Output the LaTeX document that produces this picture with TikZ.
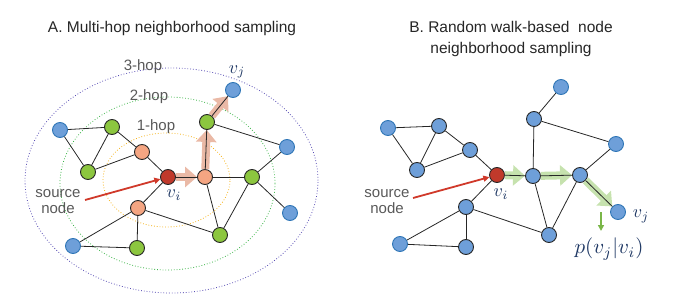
\documentclass[tikz,border=0pt]{standalone}
\usepackage{fontspec}
\setmainfont{Liberation Sans}
\usetikzlibrary{arrows.meta}
\definecolor{nblue}{HTML}{6E9FD9}
\definecolor{nblueb}{HTML}{2E75B6}
\definecolor{ngreen}{HTML}{8CC63F}
\definecolor{norange}{HTML}{F4A582}
\definecolor{nred}{HTML}{C0392B}
\definecolor{lblue}{HTML}{1F3864}
\definecolor{gtext}{HTML}{595959}
\definecolor{hopthree}{HTML}{5A4FB5}
\definecolor{hoptwo}{HTML}{3DB54A}
\definecolor{hopone}{HTML}{F5B31C}
\definecolor{salm}{HTML}{EAB9A6}
\definecolor{lgreen}{HTML}{C6E2AE}
\definecolor{sgreen}{HTML}{7AB648}
\definecolor{arrred}{HTML}{D0392A}
\newcommand{\vlab}[1]{\scalebox{1.8}{$#1$}}
\begin{document}
\begin{tikzpicture}[x=1pt,y=-1pt,
 nd/.style={circle,minimum size=15pt,inner sep=0pt,line width=0.9pt,draw=black!85},
 bn/.style={nd,fill=nblue},
 bnb/.style={nd,fill=nblue,draw=nblueb},
 gn/.style={nd,fill=ngreen},
 on/.style={nd,fill=norange},
 rn/.style={nd,fill=nred},
 edge/.style={line width=0.8pt,black!85},
 walkA/.style={line width=8pt,salm,-{Triangle[width=20pt,length=12pt]}},
 walkB/.style={line width=8pt,lgreen,-{Triangle[width=20pt,length=12pt]}},
 title/.style={font=\fontsize{15.5}{20}\selectfont,anchor=base,text=black!85},
 glabel/.style={font=\fontsize{15}{17}\selectfont,text=gtext,align=center},
 vlabel/.style={text=lblue,inner sep=0pt},
 redarr/.style={line width=1.8pt,arrred,-{Triangle[width=6pt,length=6pt]}},
 hop/.style={dotted,line width=0.8pt}
]
\useasboundingbox (0,0) rectangle (687,307);

% ---------- Panel A ----------
\node[title] (titleA) at (172,32.7) {A. Multi-hop neighborhood sampling};

\draw[hop,hopthree] (171.5,180.5) ellipse [x radius=146.5pt, y radius=112.5pt];
\draw[hop,hoptwo] (167.5,183.5) ellipse [x radius=107.5pt, y radius=86.5pt];
\draw[hop,hopone] (166.5,180) ellipse [x radius=63.5pt, y radius=47pt];

\node[glabel] (h3) at (143,67) {3-hop};
\node[glabel] (h2) at (149,97) {2-hop};
\node[glabel] (h1) at (156,127) {1-hop};

\node[bnb] (a1) at (60,130) {};
\node[gn] (a2) at (112,127) {};
\node[on] (a3) at (142,152) {};
\node[gn] (a4) at (88,172) {};
\node[rn] (viA) at (168,177) {};
\node[on] (a5) at (205,177) {};
\node[gn] (a6) at (207,122) {};
\node[bnb] (vjA) at (233,90) {};
\node[bnb] (a7) at (287,147) {};
\node[gn] (a8) at (252,177) {};
\node[bnb] (a9) at (290,213) {};
\node[on] (a10) at (138,208) {};
\node[gn] (a11) at (220,235) {};
\node[bnb] (a12) at (73,246) {};
\node[gn] (a13) at (137,248) {};

\draw[walkA] (viA) -- (a5);
\draw[walkA] (a5) -- (a6);
\draw[walkA] (a6) -- (vjA);

\foreach \u/\v in {a1/a2,a1/a4,a2/a4,a2/a3,a4/a3,a3/viA,viA/a5,viA/a10,a5/a6,a6/vjA,a6/a7,a5/a8,a5/a11,a8/a7,a8/a9,a8/a11,a10/a11,a10/a12,a10/a13,a12/a13}
  \draw[edge] (\u) -- (\v);

\node[glabel] (srcA) at (58,202) {source\\[-1pt]node};
\coordinate (sA) at (85,200);
\draw[redarr] (sA) -- (viA);

\node[vlabel] (viAl) at (174,195) {\vlab{v_i}};
\node[vlabel] (vjAl) at (237,72) {\vlab{v_j}};

% ---------- Panel B ----------
\node[title] (titleB1) at (511,32.7) {B. Random walk-based\ \ node};
\node[title] (titleB2) at (511,53.3) {neighborhood sampling};

\node[bnb] (b1) at (388,128) {};
\node[bn] (b2) at (439,126) {};
\node[bn] (b3) at (470,150) {};
\node[bn] (b4) at (417,170) {};
\node[rn] (viB) at (497,175) {};
\node[bn] (b5) at (533,176) {};
\node[bn] (b6) at (534,119) {};
\node[bnb] (b7) at (561,87) {};
\node[bnb] (b8) at (616,144) {};
\node[bn] (b9) at (580,175) {};
\node[bnb] (vjB) at (618,212) {};
\node[bn] (b10) at (466,207) {};
\node[bn] (b11) at (549,235) {};
\node[bnb] (b12) at (400,244) {};
\node[bn] (b13) at (466,247) {};

\draw[walkB] (viB) -- (b5);
\draw[walkB] (b5) -- (b9);
\draw[walkB] (b9) -- (vjB);

\foreach \u/\v in {b1/b2,b1/b4,b2/b4,b2/b3,b4/b3,b3/viB,viB/b5,viB/b10,b5/b6,b6/b7,b6/b8,b5/b9,b5/b11,b9/b11,b9/b8,b9/vjB,b10/b11,b10/b12,b10/b13,b12/b13}
  \draw[edge] (\u) -- (\v);

\node[glabel] (srcB) at (387,202) {source\\[-1pt]node};
\coordinate (sB) at (413,198);
\draw[redarr] (sB) -- (viB);

\node[vlabel] (viBl) at (501,194) {\vlab{v_i}};
\node[vlabel] (vjBl) at (641,216) {\vlab{v_j}};

\coordinate (gs) at (601,212);
\coordinate (ge) at (601,231);
\draw[line width=1.6pt,sgreen,-{Triangle[width=6pt,length=6pt]}] (gs) -- (ge);
\node[text=lblue,inner sep=0pt] (pl) at (609,249) {\scalebox{2.1}{$p(v_j|v_i)$}};
\end{tikzpicture}
\end{document}
